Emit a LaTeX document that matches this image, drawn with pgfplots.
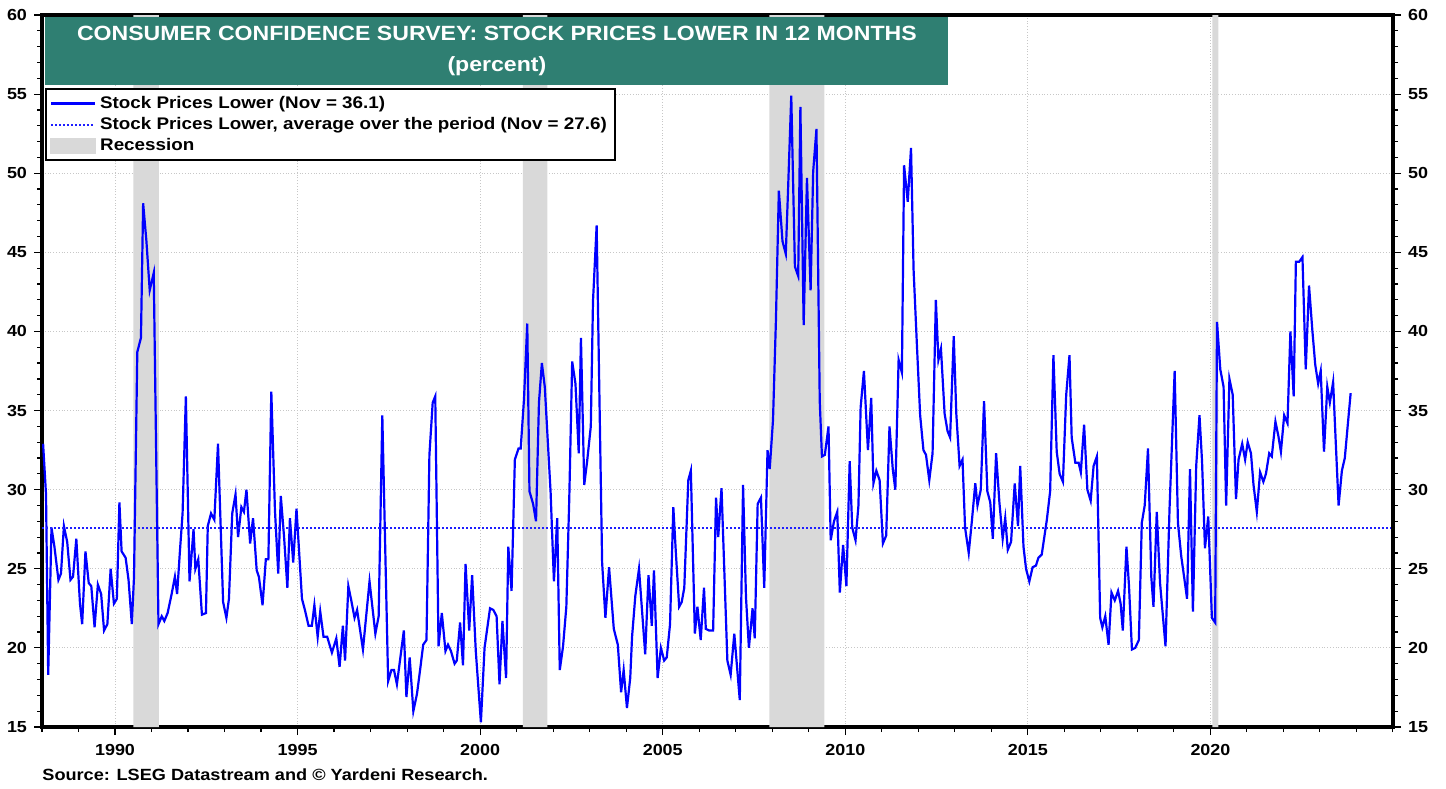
\documentclass[border=0pt]{standalone}
\usepackage{fontspec}
\setmainfont{Liberation Sans}[FakeStretch=1.12]
\usepackage{pgfplots}
\pgfplotsset{compat=1.18}
\definecolor{titlecol}{RGB}{47,127,114}
\definecolor{recgray}{RGB}{217,217,217}
\definecolor{lineblue}{RGB}{0,0,255}
\definecolor{avgblue}{RGB}{30,30,255}
\begin{document}
\begin{tikzpicture}
\path[use as bounding box] (-21pt,-30.5pt) rectangle (702pt,363.5pt);
\begin{axis}[
  at={(0,0)}, anchor=south west,
  scale only axis, width=675.5pt, height=356pt,
  clip mode=individual,
  xmin=1988, xmax=2025, ymin=15, ymax=60,
  axis line style={line width=1.6pt},
  xtick={1990,1995,...,2020}, minor xtick={1988,...,2025},
  ytick={15,20,...,60}, minor ytick={15,...,60},
  tick align=outside, xtick pos=bottom, ytick pos=left,
  major tick length=4pt, minor tick length=2.5pt,
  every tick/.style={black, line width=0.6pt},
  xmajorgrids, ymajorgrids,
  major grid style={densely dotted, black!22, line width=0.4pt},
  /pgf/number format/1000 sep={},
  /pgf/number format/assume math mode=true,
  tick label style={font=\bfseries\fontsize{8}{9}\selectfont},
  xticklabel style={yshift=-1pt},
  legend cell align=left,
  legend style={at={(rel axis cs:0.0022,0.8975)}, anchor=north west,
    draw=black, line width=1pt, font=\bfseries\fontsize{8.4}{10}\selectfont,
    inner xsep=2pt, inner ysep=1.5pt, row sep=-1pt},
  legend image code/.code={\draw[#1] (0pt,0pt) -- (22pt,0pt);},
]
% recessions
\addplot[fill=recgray, draw=none, forget plot] coordinates {(1990.5,15) (1990.5,60) (1991.2,60) (1991.2,15)} \closedcycle;
\addplot[fill=recgray, draw=none, forget plot] coordinates {(2001.17,15) (2001.17,60) (2001.84,60) (2001.84,15)} \closedcycle;
\addplot[fill=recgray, draw=none, forget plot] coordinates {(2007.92,15) (2007.92,60) (2009.43,60) (2009.43,15)} \closedcycle;
\addplot[fill=recgray, draw=none, forget plot] coordinates {(2020.05,15) (2020.05,60) (2020.22,60) (2020.22,15)} \closedcycle;
% series
\addplot[lineblue, line width=1.1pt] coordinates {
(1988.03,32.9)(1988.11,29.7)(1988.17,18.3)(1988.26,27.6)(1988.34,26.4)(1988.45,24.3)(1988.52,24.7)(1988.60,27.7)(1988.69,26.7)(1988.78,24.3)(1988.85,24.5)(1988.94,26.9)
(1989.04,22.8)(1989.10,21.5)(1989.19,26.1)(1989.28,24.1)(1989.35,23.9)(1989.44,21.3)(1989.53,24.0)(1989.62,23.4)(1989.70,21.1)(1989.79,21.5)(1989.88,25.0)(1989.97,22.8)
(1990.05,23.1)(1990.12,29.2)(1990.18,26.1)(1990.29,25.7)(1990.37,24.3)(1990.46,21.5)(1990.52,24.5)(1990.61,38.7)(1990.71,39.6)(1990.77,48.1)(1990.86,45.7)(1990.95,42.6)
(1991.06,43.7)(1991.19,21.5)(1991.28,22.0)(1991.35,21.7)(1991.44,22.2)(1991.55,23.4)(1991.64,24.5)(1991.70,23.4)(1991.78,26.2)(1991.85,28.5)(1991.94,35.9)
(1992.04,24.2)(1992.15,27.5)(1992.20,25.0)(1992.28,25.6)(1992.38,22.1)(1992.49,22.2)(1992.54,27.7)(1992.63,28.5)(1992.72,28.1)(1992.82,32.9)(1992.96,22.9)
(1993.05,21.9)(1993.12,23.1)(1993.21,28.5)(1993.30,29.7)(1993.37,27.0)(1993.46,28.9)(1993.53,28.6)(1993.60,30.0)(1993.70,26.6)(1993.78,28.2)(1993.88,24.9)(1993.94,24.5)
(1994.04,22.7)(1994.13,25.6)(1994.20,25.6)(1994.28,36.2)(1994.38,28.7)(1994.47,24.7)(1994.54,29.6)(1994.63,27.0)(1994.72,23.8)(1994.79,28.2)(1994.88,25.4)(1994.97,28.8)
(1995.12,23.1)(1995.20,22.4)(1995.30,21.4)(1995.39,21.4)(1995.46,22.7)(1995.55,20.7)(1995.62,22.3)(1995.71,20.7)(1995.81,20.7)(1995.94,19.7)
(1996.06,20.6)(1996.15,18.8)(1996.24,21.4)(1996.30,19.2)(1996.39,23.9)(1996.47,23.0)(1996.56,21.9)(1996.63,22.4)(1996.79,19.9)(1996.97,24.2)
(1997.13,20.9)(1997.22,22.0)(1997.32,34.7)(1997.48,17.9)(1997.57,18.6)(1997.64,18.6)(1997.72,17.7)(1997.91,21.1)(1997.98,16.9)
(1998.07,19.4)(1998.17,16.0)(1998.27,17.1)(1998.36,18.7)(1998.44,20.2)(1998.53,20.5)(1998.61,32.2)(1998.70,35.5)(1998.77,35.9)(1998.86,20.1)(1998.95,22.2)
(1999.05,19.8)(1999.12,20.2)(1999.20,19.8)(1999.30,19.0)(1999.36,19.2)(1999.45,21.6)(1999.53,18.9)(1999.60,25.3)(1999.70,21.1)(1999.78,24.6)(1999.88,19.8)
(2000.02,15.3)(2000.12,20.0)(2000.27,22.5)(2000.36,22.4)(2000.45,22.0)(2000.53,17.7)(2000.61,21.7)(2000.71,18.1)(2000.77,26.4)(2000.86,23.6)(2000.95,31.9)
(2001.05,32.6)(2001.11,32.6)(2001.20,35.7)(2001.29,40.5)(2001.35,29.9)(2001.45,29.1)(2001.53,28.0)(2001.61,35.5)(2001.69,38.0)(2001.77,36.5)(2001.93,29.8)
(2002.02,24.2)(2002.11,28.2)(2002.18,18.6)(2002.27,20.1)(2002.36,22.6)(2002.44,29.4)(2002.52,38.1)(2002.61,36.7)(2002.70,32.3)(2002.76,39.6)(2002.85,30.3)(2002.93,31.8)
(2003.03,34.0)(2003.09,41.9)(2003.19,46.7)(2003.34,25.4)(2003.43,21.9)(2003.53,25.1)(2003.66,21.2)(2003.77,20.2)(2003.86,17.2)(2003.93,18.6)
(2004.02,16.2)(2004.11,18.1)(2004.16,20.7)(2004.25,23.3)(2004.35,25.0)(2004.52,19.6)(2004.61,24.6)(2004.70,21.4)(2004.76,24.9)(2004.86,18.1)(2004.95,20.0)
(2005.04,19.2)(2005.11,19.4)(2005.20,21.5)(2005.29,28.9)(2005.36,26.0)(2005.45,22.6)(2005.52,22.9)(2005.59,23.8)(2005.70,30.6)(2005.77,31.2)(2005.88,20.9)(2005.95,22.6)
(2006.04,20.5)(2006.13,23.8)(2006.18,21.2)(2006.27,21.1)(2006.38,21.1)(2006.46,29.5)(2006.52,27.0)(2006.61,30.1)(2006.77,19.2)(2006.86,18.3)(2006.96,20.9)
(2007.11,16.7)(2007.20,30.3)(2007.28,23.2)(2007.36,20.0)(2007.46,22.5)(2007.52,20.6)(2007.60,29.1)(2007.69,29.5)(2007.78,23.8)(2007.87,32.5)(2007.93,31.3)
(2008.02,34.4)(2008.10,40.7)(2008.18,48.9)(2008.28,45.7)(2008.37,44.9)(2008.43,48.8)(2008.52,54.9)(2008.62,44.1)(2008.71,43.5)(2008.77,54.2)(2008.86,40.4)(2008.95,49.7)
(2009.05,42.6)(2009.12,50.1)(2009.21,52.8)(2009.30,35.6)(2009.36,32.1)(2009.44,32.2)(2009.54,34.0)(2009.60,26.8)(2009.69,28.0)(2009.78,28.6)(2009.85,23.5)(2009.94,26.5)
(2010.03,23.9)(2010.12,31.8)(2010.19,27.6)(2010.28,26.8)(2010.36,29.0)(2010.42,35.2)(2010.51,37.5)(2010.62,32.5)(2010.71,35.8)(2010.77,30.4)(2010.85,31.2)(2010.94,30.6)
(2011.03,26.6)(2011.12,27.1)(2011.21,34.0)(2011.30,31.3)(2011.37,30.0)(2011.46,38.2)(2011.55,37.4)(2011.61,50.5)(2011.71,48.2)(2011.80,51.6)(2011.87,43.9)(2011.96,39.2)
(2012.05,34.7)(2012.14,32.5)(2012.21,32.2)(2012.30,30.6)(2012.39,32.3)(2012.48,42.0)(2012.55,38.2)(2012.62,38.9)(2012.72,34.8)(2012.80,33.7)(2012.87,33.3)(2012.97,39.7)
(2013.04,34.8)(2013.13,31.5)(2013.21,31.9)(2013.28,27.6)(2013.38,26.0)(2013.47,28.1)(2013.56,30.4)(2013.62,29.0)(2013.71,30.0)(2013.80,35.6)(2013.89,29.9)(2013.97,29.2)
(2014.04,26.9)(2014.13,32.3)(2014.22,29.2)(2014.31,26.9)(2014.38,28.2)(2014.45,26.2)(2014.54,26.7)(2014.64,30.4)(2014.73,27.7)(2014.79,31.5)(2014.88,26.4)(2014.95,25.0)
(2015.04,24.2)(2015.13,25.1)(2015.22,25.2)(2015.29,25.7)(2015.38,25.9)(2015.52,28.1)(2015.61,29.9)(2015.70,38.5)(2015.79,32.4)(2015.87,31.0)(2015.96,30.5)
(2016.05,36.0)(2016.14,38.5)(2016.20,33.3)(2016.30,31.7)(2016.39,31.7)(2016.45,31.1)(2016.54,34.1)(2016.63,30.0)(2016.72,29.3)(2016.80,31.5)(2016.89,32.1)(2016.98,21.9)
(2017.04,21.3)(2017.12,22.0)(2017.21,20.2)(2017.29,23.5)(2017.38,23.0)(2017.47,23.6)(2017.54,22.8)(2017.60,21.1)(2017.70,26.4)(2017.77,23.9)(2017.85,19.9)(2017.94,20.0)
(2018.04,20.5)(2018.12,27.9)(2018.20,29.0)(2018.29,32.6)(2018.38,24.5)(2018.44,22.6)(2018.53,28.6)(2018.62,24.1)(2018.77,20.1)(2018.88,28.8)
(2019.02,37.5)(2019.11,27.9)(2019.20,25.8)(2019.29,24.3)(2019.36,23.1)(2019.44,31.3)(2019.52,22.3)(2019.61,31.5)(2019.70,34.7)(2019.77,31.8)(2019.85,26.3)(2019.94,28.3)
(2020.04,21.9)(2020.13,21.6)(2020.18,40.6)(2020.27,37.6)(2020.36,36.5)(2020.43,29.0)(2020.52,37.0)(2020.61,36.0)(2020.70,29.4)(2020.77,31.9)(2020.87,32.9)(2020.95,31.9)
(2021.02,33.0)(2021.11,32.3)(2021.18,30.3)(2021.27,28.6)(2021.36,31.1)(2021.45,30.5)(2021.52,31.0)(2021.61,32.3)(2021.68,32.1)(2021.78,34.3)(2021.86,33.4)(2021.93,32.4)
(2022.02,34.7)(2022.11,34.2)(2022.19,40.0)(2022.28,35.9)(2022.34,44.4)(2022.43,44.4)(2022.52,44.7)(2022.61,37.6)(2022.70,42.9)(2022.79,40.1)(2022.87,37.9)(2022.95,36.7)
(2023.02,37.5)(2023.11,32.4)(2023.20,36.5)(2023.27,35.5)(2023.36,36.8)(2023.43,33.1)(2023.51,29.0)(2023.60,31.2)(2023.68,32.0)(2023.75,33.8)(2023.84,36.1)
};
\addlegendentry{Stock Prices Lower (Nov = 36.1)}
\addplot[draw=avgblue, line width=0.9pt, dash pattern=on 1pt off 1pt] coordinates {(1988,27.6) (2025,27.6)};
\addlegendentry{Stock Prices Lower, average over the period (Nov = 27.6)}
\addlegendimage{legend image code/.code={\fill[recgray] (0pt,-3.5pt) rectangle (22pt,3.5pt);}}
\addlegendentry{Recession}
% title
\node[fill=titlecol, text=white, font=\bfseries\fontsize{10.3}{15.5}\selectfont,
  anchor=north west, minimum width=451.5pt, minimum height=34pt, align=center, inner sep=0pt]
  at (rel axis cs:0.0022,0.9972) {CONSUMER CONFIDENCE SURVEY: STOCK PRICES LOWER IN 12 MONTHS\\(percent)};
\node[anchor=west, yshift=-24pt, font=\bfseries\fontsize{8.1}{9.5}\selectfont, inner sep=0pt]
  at (rel axis cs:0,0) {Source: LSEG Datastream and © Yardeni Research.};
\end{axis}
\begin{axis}[
  at={(0,0)}, anchor=south west,
  scale only axis, width=675.5pt, height=356pt,
  xmin=1988, xmax=2025, ymin=15, ymax=60,
  hide x axis, axis y line*=right,
  axis line style={line width=1.6pt},
  ytick={15,20,...,60}, minor ytick={15,...,60},
  tick align=outside, ytick pos=right, yticklabel pos=right,
  major tick length=4pt, minor tick length=2.5pt,
  every tick/.style={black, line width=0.6pt},
  /pgf/number format/assume math mode=true,
  tick label style={font=\bfseries\fontsize{8}{9}\selectfont},
]
\addplot[draw=none] coordinates {(2000,30)};
\end{axis}
\end{tikzpicture}
\end{document}
